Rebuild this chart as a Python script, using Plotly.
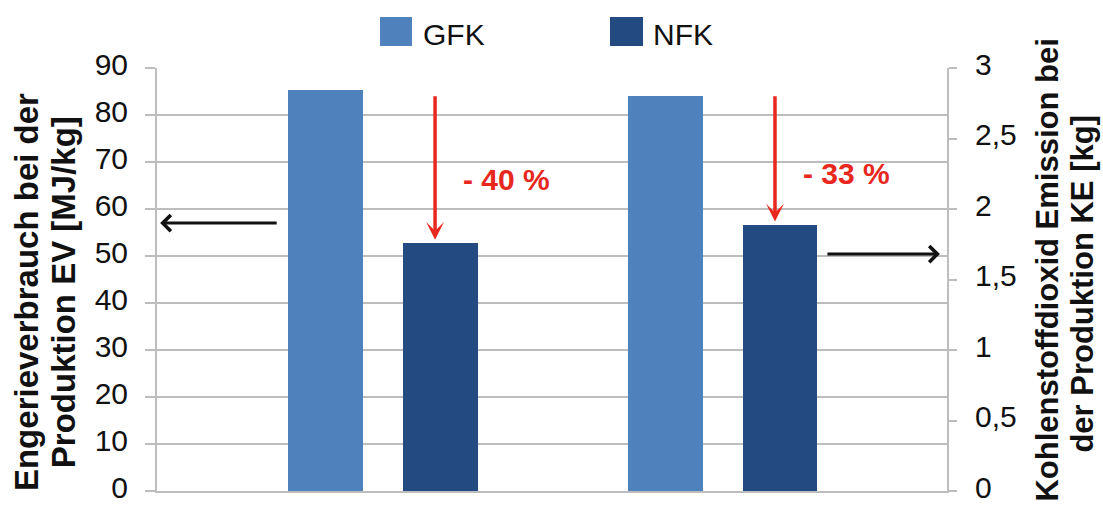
import plotly.graph_objects as go

# Values per product group (EV on the left axis, KE on the right axis)
groups = ["EV", "KE"]
series = ["GFK", "NFK"]
ev_values = [85.3, 52.8]      # MJ/kg
ke_values = [2.80, 1.89]      # kg
reduction_labels = ["- 40 %", "- 33 %"]
y_left_title = ["Engerieverbrauch bei der", "Produktion EV [MJ/kg]"]
y_right_title = ["Kohlenstoffdioxid Emission bei", "der Produktion KE [kg]"]

colors = {"GFK": "#4F81BD", "NFK": "#244A82"}
bar_width = 0.22
offsets = {"GFK": -0.278, "NFK": 0.06}
grid = "#BDBDBD"
red = "#E8281E"
font = "Liberation Sans, Arial, sans-serif"

fig = go.Figure()
for name, val in zip(series, ev_values):
    fig.add_trace(go.Bar(x=[groups[0]], y=[val], name=name, yaxis="y",
                         marker=dict(color=colors[name], line=dict(width=0)),
                         width=bar_width, offset=offsets[name], showlegend=False))
for name, val in zip(series, ke_values):
    fig.add_trace(go.Bar(x=[groups[1]], y=[val], name=name, yaxis="y2",
                         marker=dict(color=colors[name], line=dict(width=0)),
                         width=bar_width, offset=offsets[name], showlegend=False))

annotations = []
# red reduction arrows from GFK level down to the NFK bar
arrow_x = 0.155
text_x = 0.365
for i, (ref, hi, lo, lab, ty) in enumerate([
        ("y", 84.3, ev_values[1], reduction_labels[0], 66.2),
        ("y2", 2.81, ke_values[1], reduction_labels[1], 2.25)]):
    annotations.append(dict(x=i + arrow_x, y=lo, xref="x", yref=ref,
                            ax=i + arrow_x, ay=hi, axref="x", ayref=ref,
                            text="", showarrow=True, arrowhead=3, arrowsize=0.85,
                            arrowwidth=3.5, arrowcolor=red, standoff=3))
    annotations.append(dict(x=i + text_x, y=ty, xref="x", yref=ref, text=lab,
                            showarrow=False, xanchor="center", yanchor="middle",
                            font=dict(family=font, size=30, color=red, weight="bold")))

# black arrows pointing to the respective axis
annotations.append(dict(x=0.004, y=57.0, xref="paper", yref="y", ax=118, ay=0,
                        text="", showarrow=True, arrowhead=4, arrowsize=1.05,
                        arrowwidth=3, arrowcolor="#111111"))
annotations.append(dict(x=0.991, y=1.68, xref="paper", yref="y2", ax=-114, ay=0,
                        text="", showarrow=True, arrowhead=4, arrowsize=1.05,
                        arrowwidth=3, arrowcolor="#111111"))

# axis titles, one annotation per line
for txt, xp, yp, fs in [(y_left_title[0], -0.166, 0.47, 33), (y_left_title[1], -0.119, 0.47, 33),
                        (y_right_title[0], 1.127, 0.522, 31), (y_right_title[1], 1.172, 0.49, 31)]:
    annotations.append(dict(x=xp, y=yp, xref="paper", yref="paper", text=txt,
                            textangle=-90, showarrow=False, xanchor="center",
                            yanchor="middle",
                            font=dict(family=font, size=fs, color="#111111", weight="bold")))

# legend
shapes = []
for name, x0, x1, tx in [("GFK", 0.2823, 0.3228, 0.334), ("NFK", 0.5734, 0.6152, 0.625)]:
    shapes.append(dict(type="rect", xref="paper", yref="paper", x0=x0, x1=x1,
                       y0=1.052, y1=1.1206, fillcolor=colors[name], line=dict(width=0)))
    annotations.append(dict(x=tx, y=1.08, xref="paper", yref="paper", text=name,
                            showarrow=False, xanchor="left", yanchor="middle",
                            font=dict(family=font, size=30, color="#111111")))

tick_font = dict(family=font, size=30, color="#111111")
fig.update_layout(
    width=1103, height=505,
    margin=dict(l=157, r=156, t=68, b=14, autoexpand=False),
    paper_bgcolor="white", plot_bgcolor="white",
    separators=", ",
    showlegend=False,
    xaxis=dict(type="category", range=[-0.663, 1.661], showticklabels=False,
               ticks="", showgrid=False, showline=True, linecolor=grid, linewidth=2,
               zeroline=False, automargin=False),
    yaxis=dict(range=[0, 90], dtick=10, showgrid=True, gridcolor=grid, gridwidth=2,
               showline=True, linecolor=grid, linewidth=2, ticks="outside",
               ticklen=10, tickcolor=grid, tickwidth=2, zeroline=False,
               ticklabelstandoff=11, ticklabelshift=-4, ticklabeloverflow="allow",
               automargin=False, tickfont=tick_font),
    yaxis2=dict(range=[0, 3], dtick=0.5, overlaying="y", side="right",
                showgrid=False, showline=True, linecolor=grid, linewidth=2,
                ticks="outside", ticklen=8, tickcolor=grid, tickwidth=2,
                zeroline=False, ticklabelstandoff=12, ticklabelshift=-4,
                ticklabeloverflow="allow", automargin=False, tickfont=tick_font),
    annotations=annotations,
    shapes=shapes,
    bargap=0, barmode="overlay",
)

fig.write_html("out.html")
